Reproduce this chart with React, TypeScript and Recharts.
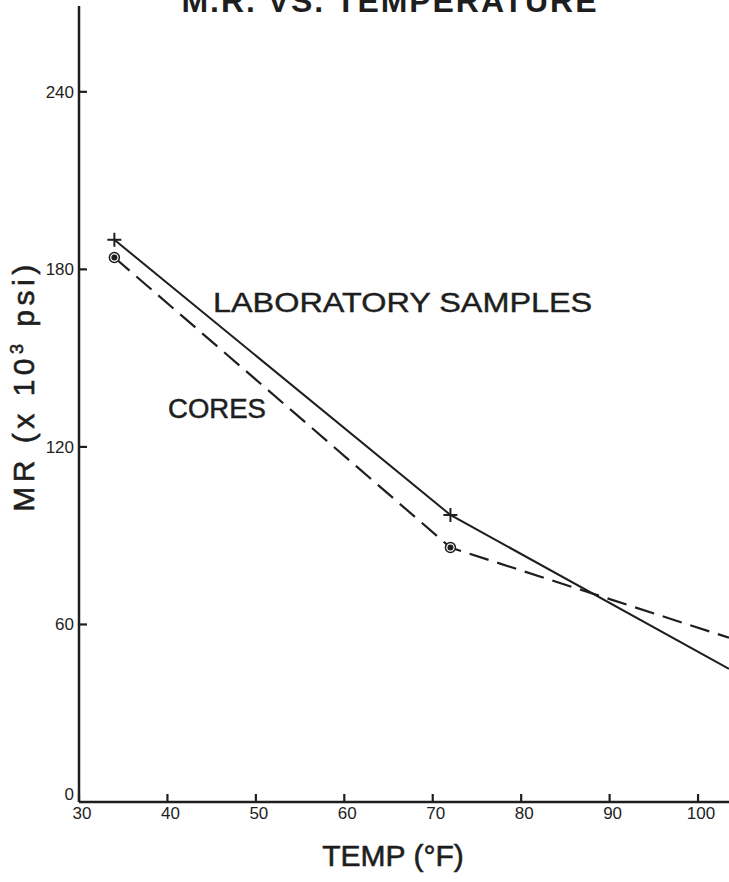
import { Line, LineChart, XAxis, YAxis } from "recharts";

// temperature (°F) at each measured point; the last one is where the lines leave the frame
const temps = [34, 72, 103.5];
const labSamples = [190, 97, 45];
const coreSamples = [184, 86, 55.5];
const xTicks = [30, 40, 50, 60, 70, 80, 90, 100];
const yTicks = [0, 60, 120, 180, 240];

const data = temps.map((t, i) => ({ temp: t, lab: labSamples[i], cores: coreSamples[i] }));

const INK = "#1e1e1e";
const FONT = "'Liberation Sans', Arial, sans-serif";

const CHART_W = 729;
const CHART_H = 882;
const Y_AXIS_W = 79;
const X_AXIS_H = 80;
// where the axis lines sit (margins are 0 left/bottom)
const AXIS_X = Y_AXIS_W;
const AXIS_Y = CHART_H - X_AXIS_H;

// marks point into the plot, labels sit outside; only the tick's position along the axis is used
function XTick(props: any) {
  const { x, payload } = props;
  return (
    <g>
      <line x1={x} y1={AXIS_Y} x2={x} y2={AXIS_Y - 8} stroke={INK} strokeWidth={2.2} />
      <text x={x + 3} y={AXIS_Y + 17} textAnchor="middle" fontSize={17} fontFamily={FONT} fill={INK}>
        {payload.value}
      </text>
    </g>
  );
}

function YTick(props: any) {
  const { y, payload } = props;
  const isZero = payload.value === 0;
  return (
    <g>
      {!isZero && <line x1={AXIS_X} y1={y} x2={AXIS_X + 8} y2={y} stroke={INK} strokeWidth={2.2} />}
      <text
        x={AXIS_X - 5}
        y={isZero ? y - 2 : y + 6}
        textAnchor="end"
        fontSize={17}
        fontFamily={FONT}
        fill={INK}
      >
        {payload.value}
      </text>
    </g>
  );
}

function StarDot(props: any) {
  const { cx, cy, index } = props;
  if (index === temps.length - 1 || cx == null) return null;
  return (
    <g key={`s${index}`} stroke={INK} strokeWidth={2}>
      <line x1={cx - 7} y1={cy} x2={cx + 7} y2={cy} />
      <line x1={cx} y1={cy - 7} x2={cx} y2={cy + 7} />
    </g>
  );
}

function CircleDot(props: any) {
  const { cx, cy, index } = props;
  if (index === temps.length - 1 || cx == null) return null;
  return (
    <g key={`c${index}`}>
      <circle cx={cx} cy={cy} r={5} fill="#fff" stroke={INK} strokeWidth={1.5} />
      <circle cx={cx} cy={cy} r={3} fill={INK} />
    </g>
  );
}

export default function App() {
  return (
    <div style={{ position: "absolute", left: 0, top: 0, width: CHART_W, height: CHART_H, background: "#fff" }}>
      <LineChart width={CHART_W} height={CHART_H} data={data} margin={{ top: 6, right: 0, left: 0, bottom: 0 }}>
        <XAxis
          dataKey="temp"
          type="number"
          domain={[30, 103.5]}
          ticks={xTicks}
          height={X_AXIS_H}
          axisLine={{ stroke: INK, strokeWidth: 2.5 }}
          tickLine={false}
          tick={<XTick />}
        />
        <YAxis
          type="number"
          domain={[0, 269]}
          ticks={yTicks}
          width={Y_AXIS_W}
          axisLine={{ stroke: INK, strokeWidth: 2.5 }}
          tickLine={false}
          tick={<YTick />}
        />
        <Line
          dataKey="lab"
          type="linear"
          stroke={INK}
          strokeWidth={2}
          dot={StarDot}
          activeDot={false}
          isAnimationActive={false}
        />
        <Line
          dataKey="cores"
          type="linear"
          stroke={INK}
          strokeWidth={2.2}
          strokeDasharray="20 9"
          dot={CircleDot}
          activeDot={false}
          isAnimationActive={false}
        />
      </LineChart>
      <svg
        width={CHART_W}
        height={CHART_H}
        style={{ position: "absolute", left: 0, top: 0, pointerEvents: "none" }}
        fontFamily={FONT}
        fill={INK}
      >
        <text x={389} y={12} fontSize={32} fontWeight="bold" textAnchor="middle" textLength={415} lengthAdjust="spacing">
          M.R. VS. TEMPERATURE
        </text>
        <text transform="translate(213, 312) scale(1.2, 1)" fontSize={27} stroke={INK} strokeWidth={0.4}>
          LABORATORY SAMPLES
        </text>
        <text transform="translate(168, 418) scale(1.02, 1)" fontSize={27} stroke={INK} strokeWidth={0.5}>
          CORES
        </text>
        <text
          transform="translate(34, 386) rotate(-90)"
          fontSize={30}
          textAnchor="middle"
          letterSpacing={4.5}
          stroke={INK}
          strokeWidth={0.6}
        >
          MR (x 10<tspan fontSize={18} dy={-11}>3</tspan>
          <tspan dy={11}> psi)</tspan>
        </text>
        <text x={393} y={866} fontSize={30} textAnchor="middle" stroke={INK} strokeWidth={0.6}>
          TEMP (°F)
        </text>
      </svg>
    </div>
  );
}
